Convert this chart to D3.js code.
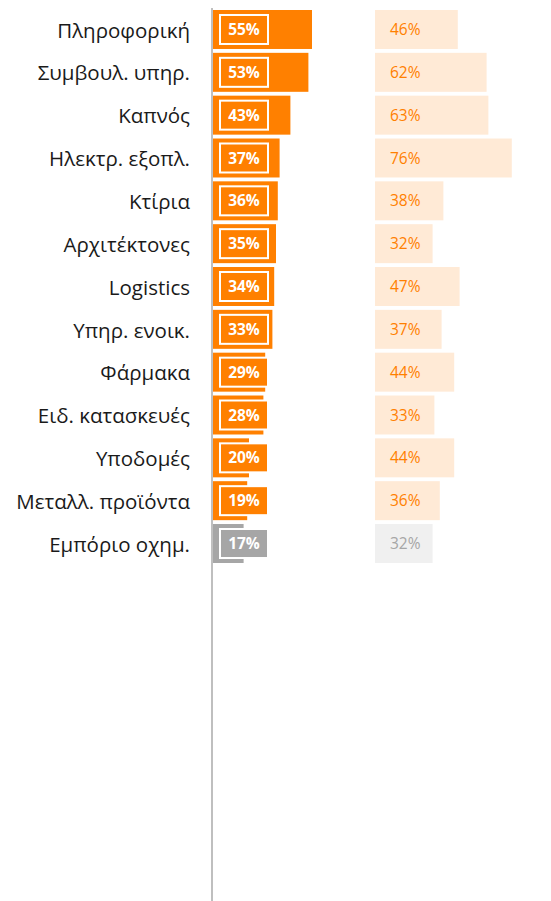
<!DOCTYPE html>
<html>
<head>
<meta charset="utf-8">
<script src="https://cdn.jsdelivr.net/npm/d3@7"></script>
<style>
  body { margin: 0; background: #fff; }
  svg { display: block; font-family: "Open Sans", "Noto Sans", sans-serif; }
</style>
</head>
<body>
<div id="chart"></div>
<script>
// data
const categories = ["Πληροφορική", "Συμβουλ. υπηρ.", "Καπνός", "Ηλεκτρ. εξοπλ.", "Κτίρια",
  "Αρχιτέκτονες", "Logistics", "Υπηρ. ενοικ.", "Φάρμακα", "Ειδ. κατασκευές",
  "Υποδομές", "Μεταλλ. προϊόντα", "Εμπόριο οχημ."];
const leftValues = [55, 53, 43, 37, 36, 35, 34, 33, 29, 28, 20, 19, 17];
const rightValues = [46, 62, 63, 76, 38, 32, 47, 37, 44, 33, 44, 36, 32];
const highlight = [true, true, true, true, true, true, true, true, true, true, true, true, false];

const width = 551, height = 901;

const svg = d3.select("#chart")
    .append("svg")
    .attr("width", width)
    .attr("height", height);

const y = d3.scaleBand()
    .domain(categories)
    .range([10, 563])
    .paddingInner(0.09)
    .paddingOuter(0);

// same px per % on both sides
const xLeft = d3.scaleLinear().domain([0, 100]).range([213, 393]);
const xRight = d3.scaleLinear().domain([0, 100]).range([375, 555]);

const orange = "#ff8000", grey = "#a6a6a6";
const lightOrange = "#ffead6", lightGrey = "#f0f0f0";

const rows = categories.map((c, i) => ({
  cat: c, left: leftValues[i], right: rightValues[i], hi: highlight[i]
}));

// category labels
svg.selectAll("text.cat")
    .data(rows)
    .enter()
    .append("text")
    .attr("class", "cat")
    .attr("x", 190)
    .attr("y", d => y(d.cat) + y.bandwidth() / 2 + 1)
    .attr("dy", "0.35em")
    .attr("text-anchor", "end")
    .attr("font-size", "20.5px")
    .attr("fill", "#1a1a1a")
    .text(d => d.cat);

// left bars
svg.selectAll("rect.left")
    .data(rows)
    .enter()
    .append("rect")
    .attr("class", "left")
    .attr("x", xLeft(0))
    .attr("y", d => y(d.cat))
    .attr("width", d => xLeft(d.left) - xLeft(0))
    .attr("height", y.bandwidth())
    .attr("fill", d => d.hi ? orange : grey);

// label boxes
svg.selectAll("rect.box")
    .data(rows)
    .enter()
    .append("rect")
    .attr("class", "box")
    .attr("x", 220)
    .attr("y", d => y(d.cat) + y.bandwidth() / 2 - 14.5)
    .attr("width", 48)
    .attr("height", 29)
    .attr("fill", d => d.hi ? orange : grey)
    .attr("stroke", "#fff")
    .attr("stroke-width", 2);

svg.selectAll("text.lval")
    .data(rows)
    .enter()
    .append("text")
    .attr("class", "lval")
    .attr("x", 244)
    .attr("y", d => y(d.cat) + y.bandwidth() / 2)
    .attr("dy", "0.36em")
    .attr("text-anchor", "middle")
    .attr("font-size", "15.5px")
    .attr("font-weight", "bold")
    .attr("fill", "#fff")
    .text(d => d.left + "%");

// right bars
svg.selectAll("rect.right")
    .data(rows)
    .enter()
    .append("rect")
    .attr("class", "right")
    .attr("x", xRight(0))
    .attr("y", d => y(d.cat))
    .attr("width", d => xRight(d.right) - xRight(0))
    .attr("height", y.bandwidth())
    .attr("fill", d => d.hi ? lightOrange : lightGrey);

svg.selectAll("text.rval")
    .data(rows)
    .enter()
    .append("text")
    .attr("class", "rval")
    .attr("x", 390)
    .attr("y", d => y(d.cat) + y.bandwidth() / 2)
    .attr("dy", "0.36em")
    .attr("font-size", "15.5px")
    .attr("fill", d => d.hi ? orange : grey)
    .text(d => d.right + "%");

// axis line
svg.append("line")
    .attr("x1", 212).attr("x2", 212)
    .attr("y1", 8).attr("y2", height)
    .attr("stroke", "#bfbfbf")
    .attr("stroke-width", 2);
</script>
</body>
</html>
